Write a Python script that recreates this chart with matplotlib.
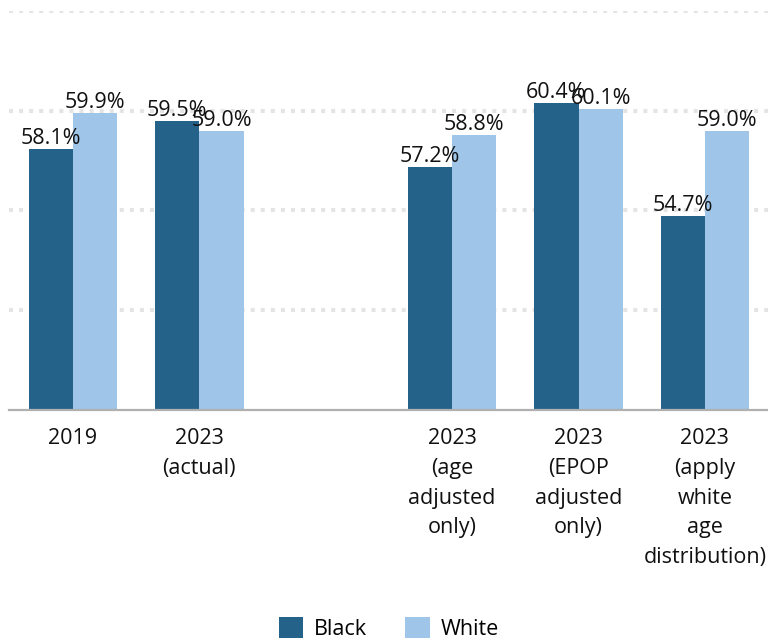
import numpy as np
import matplotlib.pyplot as plt

plt.rcParams['font.family'] = ['Open Sans', 'DejaVu Sans']

# employment-to-population ratios, percent
categories = ['2019', '2023\n(actual)', '', '2023\n(age\nadjusted\nonly)',
              '2023\n(EPOP\nadjusted\nonly)', '2023\n(apply\nwhite\nage\ndistribution)']
black = [58.1, 59.5, np.nan, 57.2, 60.4, 54.7]
white = [59.9, 59.0, np.nan, 58.8, 60.1, 59.0]

dark_blue = '#25628a'
light_blue = '#9fc5e8'
fs = 15.5

fig = plt.figure(figsize=(7.68, 6.43), dpi=100)
ax = fig.add_axes([0.0117, 0.3624, 0.9883, 0.6206])

x = np.arange(len(categories))
w = 0.35
b1 = ax.bar(x - w / 2, black, w, color=dark_blue, label='Black', zorder=3)
b2 = ax.bar(x + w / 2, white, w, color=light_blue, label='White', zorder=3)

for bars, vals in [(b1, black), (b2, white)]:
    labels = ['' if np.isnan(v) else f'{v:.1f}%' for v in vals]
    ax.bar_label(bars, labels=labels, padding=0, fontsize=fs, color='#111111', zorder=4)

ax.set_ylim(45, 65)
ax.set_xlim(-0.506, 5.499)
ax.set_yticks([50, 55, 60, 65])
ax.set_yticklabels([])
ax.yaxis.grid(True, color='#e4e4e4', linewidth=2.9, linestyle=(0, (1, 1.5)),
              dash_capstyle='butt', zorder=0)
ax.tick_params(axis='y', length=0)
ax.axhline(45, color='#b0b0b0', linewidth=1.6, zorder=5, clip_on=False)

ax.set_xticks(x)
ax.set_xticklabels(categories, fontsize=fs, color='#111111', linespacing=1.55)
ax.tick_params(axis='x', length=0, pad=13)

for s in ax.spines.values():
    s.set_visible(False)

fig.legend(loc='center', bbox_to_anchor=(0.506, 0.023), ncol=2, frameon=False,
           fontsize=fs, handlelength=1.12, handleheight=1.12, handletextpad=0.5,
           columnspacing=1.8, borderpad=0)

fig.savefig('out.png', dpi=100)
